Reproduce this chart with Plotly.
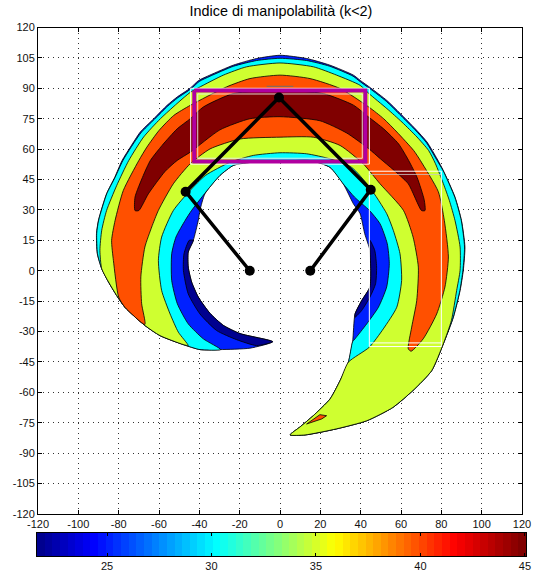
import numpy as np
import plotly.graph_objects as go

TITLE = "Indice di manipolabilità (k<2)"
X_TICKS = list(range(-120, 121, 20))
Y_TICKS = list(range(-120, 121, 15))
CB_TICKS = [25, 30, 35, 40, 45]
CB_MIN, CB_MAX = 21.65, 45.05

REGION = [(-3.6,-35),(-14.9,-38.2),(-29.8,-38.9),(-39.7,-38.9),(-48,-36.4),(-59.5,-32),(-67,-27),(-76.9,-18),(-81,-12.2),(-85,-5.6),(-88.4,1),(-90.6,8.4),(-91,18.3),(-90,25),(-86,38),(-82,46),(-78.3,54.4),(-74.2,61),(-69.3,68.4),(-62.6,75),(-56,81.6),(-51,85.7),(-44.5,90.1),(-40.3,93.9),(-34.8,96.5),(-23.2,101.4),(-11.6,104.7),(0,106.3),(13.2,104.7),(24.8,101.4),(36.4,96.5),(39.8,93.9),(44.8,90.3),(53,84),(59.7,77.5),(67.1,70),(72.9,63.5),(77.9,55.2),(81,49.4),(86.8,36.3),(90,24.7),(91.7,11.7),(90.9,0.2),(89.3,-9.7),(86,-22.9),(81,-36),(75.2,-49.3),(66,-59),(56,-67.4),(43,-74),(28,-78),(12.4,-81),(5,-81),(10,-77),(16.5,-71.5),(24.8,-63.3),(29.8,-54.2),(33.9,-45.1),(36,-35),(37.2,-21.3),(40.5,-14.7),(44.6,-8),(45,0.2),(44.6,10),(42,18.3),(39.7,28.2),(36.4,33),(31.4,42.8),(24.8,51),(14.9,54.4),(0,54),(-13,53.6),(-23,52),(-29.8,47),(-37.2,38),(-39.7,29.8),(-40.5,24.9),(-43,15),(-45.5,9.2),(-45.5,1.8),(-43.8,-5.6),(-40.5,-13),(-34.7,-21),(-28,-27),(-19.8,-31)]

CYAN = [(-29.4,-38.9),(-39.7,-38.9),(-48,-36.4),(-59.5,-32),(-67,-27),(-76.9,-18),(-81,-12.2),(-85,-5.6),(-88.4,1),(-90.5,8.4),(-90.9,18.3),(-89.9,25),(-85.9,38),(-81.8,46),(-78,54.2),(-74,60.7),(-69,68),(-62.3,74.7),(-55.7,81.2),(-50.7,85.3),(-44.2,89.7),(-40,93.4),(-34.6,96),(-23,100.9),(-11.6,103.7),(0,104.8),(13.2,103.7),(24.6,100.9),(36.2,96),(39.6,93.4),(44.5,89.9),(52.7,83.6),(59.4,77.1),(66.8,69.7),(72.6,63.2),(77.6,54.9),(80.9,49.3),(86.7,36.2),(89.9,24.7),(91.5,11.7),(90.7,0.2),(89.2,-9.7),(85.9,-22.9),(81,-36),(75.2,-49.3),(66,-59),(56,-67.4),(43,-74),(28,-78),(12.4,-81),(5,-81),(10,-77),(16.5,-71.5),(24.8,-63.3),(29.8,-54.2),(33.9,-45.1),(36,-35),(37.2,-33.6),(43,-26.2),(48.8,-18),(52.9,-8),(54.2,3.5),(53.2,13.3),(49.6,23.2),(44.3,29.8),(37,36.3),(31.4,42.8),(24.8,51),(14.9,54.4),(0,54),(-13,53.6),(-23,52),(-29.8,47),(-35.5,40.4),(-43.8,29.8),(-47,24.9),(-51.6,16.6),(-53.7,8.4),(-53.7,-4.8),(-50.9,-16.3),(-45.5,-26.2),(-38,-33.6)]

LIME = [(-45.5,-36.9),(-48,-36.4),(-59.5,-32),(-67,-27),(-76.9,-18),(-81,-12.2),(-85,-5.6),(-88.4,1),(-89.3,10),(-88.4,20),(-86,29.7),(-81,42),(-75,54.4),(-67.6,66),(-59.3,75),(-44.5,88),(-38.1,91.5),(-28.1,96.5),(-16.6,100.6),(0,102.5),(16.6,100.6),(28.1,96.5),(39.7,91.5),(44,87.5),(53,80),(60.5,73.3),(67.9,66),(73.7,59.3),(77,53),(81,43),(84,34.6),(86.8,24.7),(89.3,11.7),(89.3,0.2),(87.6,-9.7),(85,-24.5),(81,-36),(75.2,-49.3),(66,-59),(56,-67.4),(43,-74),(28,-78),(12.4,-81),(5,-81),(10,-77),(16.5,-71.5),(24.8,-63.3),(29.8,-54.2),(33.9,-45.1),(44.3,-37.7),(51.2,-28.7),(57.9,-18),(60.3,-4.8),(59.5,8.4),(56.2,19.9),(52.9,28.2),(44.6,41),(35.5,51),(24.8,55.2),(13.2,57.7),(0,58.2),(-13.2,56.9),(-24.8,53.5),(-37,47),(-44.6,39.6),(-52.9,29.7),(-58.7,16.6),(-60.3,5.1),(-58.7,-9.7),(-54.5,-21.3),(-50.4,-30.3)]

ORANGE = [(-67,-26.5),(-76.9,-18),(-80,-13),(-82.6,5),(-83.5,15),(-81.8,24.7),(-77.7,39.6),(-70,54.4),(-66,61),(-60,69.2),(-52.7,76.6),(-44.5,81.6),(-26.5,90.7),(-14.9,94.8),(0,96.5),(14.9,94.8),(29.8,89.9),(44,80.8),(51.4,75),(58,68.4),(66.3,59.3),(69.6,54.4),(78.5,39),(81.5,24.7),(83.5,6.8),(81.8,-8),(77.7,-21.3),(71,-33.6),(65,-39.7),(63.6,-38.5),(65.3,-27.8),(67.8,-14.7),(68.6,1.8),(66,16.6),(61.2,29.8),(49.6,42.9),(41.3,52.7),(29.8,61.8),(16.5,65.9),(0,65.9),(-19.8,65),(-34.7,60.1),(-44.6,52.7),(-52.9,42.9),(-60.3,29.8),(-63.6,21.6),(-67,11.7),(-69,-3),(-68.6,-16.3)]

ORANGE_TIP = [(13.2,-75.6),(19.8,-71),(23.1,-71.5),(20.7,-73.1)]

DARKRED = [(-71.9,29.7),(-71.9,36.3),(-67.8,47),(-64.3,54.4),(-58.5,61.8),(-51,70),(-44.5,75),(-38,80.8),(-23.2,87.4),(0,89),(21.5,87.4),(36.4,81.7),(44,75.8),(51.4,70),(58.8,62.6),(63.8,54.4),(68,46),(71.5,35),(71.9,29.7),(70.2,29.7),(63.6,42.9),(56,50),(49.8,55.2),(44,60.2),(33,68),(19.8,74),(0,76),(-14.9,75),(-29.8,69.5),(-44.5,58.5),(-51,54.4),(-57,49),(-65.3,37.9),(-70,29.7)]

NAVY_LEFT = [(-3.6,-35),(-11.6,-36.9),(-21.5,-34),(-31.4,-29.5),(-39.7,-21.3),(-45.5,-11.4),(-47.9,0.2),(-47.6,8.4),(-45,15),(-43,15),(-45.5,9.2),(-45.5,1.8),(-43.8,-5.6),(-40.5,-13),(-34.7,-21),(-28,-27),(-19.8,-31)]
NAVY_RIGHT = [(44.6,15),(47,10),(47.9,1.8),(47.4,-6.4),(44.6,-13),(40.5,-19.6),(37.2,-22.9),(37.2,-21.3),(40.5,-14.7),(44.6,-8),(45,0.2),(44.6,10)]

BASE_LINK_X = [-15, -46.8, -0.5, 45, 15]
BASE_LINK_Y = [0, 39, 85.5, 40, 0]

PURPLE_RECT_X = [-42.5, 42.3, 42.3, -42.5, -42.5]
PURPLE_RECT_Y = [88.9, 88.9, 53.9, 53.9, 88.9]
WHITE_OUTER_X = [-44.3, 44.3, 44.3, -44.3, -44.3]
WHITE_OUTER_Y = [90, 90, 52.6, 52.6, 90]
WHITE_INNER_X = [-40.8, 40.8, 40.8, -40.8, -40.8]
WHITE_INNER_Y = [87.2, 87.2, 55.5, 55.5, 87.2]
WHITE_RIGHT_X = [44.3, 80, 80, 44.3, 44.3]
WHITE_RIGHT_Y = [49.1, 49.1, -37.4, -37.4, 49.1]
WHITE_LOW_X = [44.3, 80]
WHITE_LOW_Y = [-35.6, -35.6]
GREY_HIGH_X = [44.3, 80]
GREY_HIGH_Y = [47.5, 47.5]
GREY_TOP_X = [-6.6, 6.6]
GREY_TOP_Y = [91, 91]

W, H = 533, 574
fig = go.Figure()

def poly(points, color, shape="spline"):
    xs = [p[0] for p in points] + [points[0][0]]
    ys = [p[1] for p in points] + [points[0][1]]
    fig.add_trace(go.Scatter(x=xs, y=ys, mode="lines", fill="toself", fillcolor=color,
                             line=dict(color="#000000", width=0.8, shape=shape, smoothing=0.6),
                             hoverinfo="skip", showlegend=False))

poly(REGION, "rgb(0,32,255)")
poly(CYAN, "rgb(0,255,255)")
poly(LIME, "rgb(207,255,48)")
poly(ORANGE, "rgb(255,80,0)")
poly(ORANGE_TIP, "rgb(255,80,0)", "linear")
poly(DARKRED, "rgb(128,0,0)")
poly(NAVY_LEFT, "rgb(0,0,143)")
poly(NAVY_RIGHT, "rgb(0,0,143)")

def line(xs, ys, color, width):
    fig.add_trace(go.Scatter(x=xs, y=ys, mode="lines", line=dict(color=color, width=width),
                             hoverinfo="skip", showlegend=False))

line(WHITE_RIGHT_X, WHITE_RIGHT_Y, "white", 1)
line(WHITE_LOW_X, WHITE_LOW_Y, "white", 1)
line(GREY_HIGH_X, GREY_HIGH_Y, "rgba(200,200,200,0.8)", 1)
line(GREY_TOP_X, GREY_TOP_Y, "rgb(110,110,110)", 1)
line(WHITE_OUTER_X, WHITE_OUTER_Y, "white", 1)
line(WHITE_INNER_X, WHITE_INNER_Y, "rgba(235,235,235,0.9)", 1)
line(PURPLE_RECT_X, PURPLE_RECT_Y, "rgb(176,0,160)", 4)

fig.add_trace(go.Scatter(x=BASE_LINK_X, y=BASE_LINK_Y, mode="lines+markers",
                         line=dict(color="black", width=3.5),
                         marker=dict(color="black", size=10),
                         hoverinfo="skip", showlegend=False))

# colorbar: 64-step jet ramp
JET = [[0, "rgb(0,0,143)"], [0.11, "rgb(0,0,255)"], [0.365, "rgb(0,255,255)"],
       [0.61, "rgb(255,255,0)"], [0.86, "rgb(255,0,0)"], [1, "rgb(128,0,0)"]]
ramp = np.linspace(CB_MIN, CB_MAX, 65)
ramp_mid = (ramp[:-1] + ramp[1:]) / 2
fig.add_trace(go.Heatmap(x=ramp_mid, y=[0], z=[ramp_mid.tolist()], colorscale=JET,
                         showscale=False, xaxis="x2", yaxis="y2", hoverinfo="skip"))

FONT = dict(family="Liberation Sans, Arial, sans-serif", size=11, color="#111111")
fig.update_layout(
    width=W, height=H, margin=dict(l=0, r=0, t=0, b=0, autoexpand=False), paper_bgcolor="white", plot_bgcolor="white",
    showlegend=False, font=FONT,
    title=dict(text=TITLE, x=281/W, xanchor="center", y=1-11/H, yanchor="middle",
               font=dict(family="Liberation Sans, Arial, sans-serif", size=14.4, color="black")),
    xaxis=dict(domain=[38/W, 522/W], range=[-120, 120], tickvals=X_TICKS, ticktext=[str(v) for v in X_TICKS],
               ticks="inside", ticklen=4, tickcolor="black", showline=True, linecolor="black", linewidth=1, mirror="ticks",
               showgrid=True, gridcolor="#333333", griddash="1px,4px", gridwidth=1, zeroline=False, anchor="y"),
    yaxis=dict(domain=[1-514/H, 1-27.5/H], range=[-120, 120], tickvals=Y_TICKS, ticktext=[str(v) for v in Y_TICKS],
               ticks="inside", ticklen=4, tickcolor="black", showline=True, linecolor="black", linewidth=1, mirror="ticks",
               showgrid=True, gridcolor="#333333", griddash="1px,4px", gridwidth=1, zeroline=False, anchor="x"),
    xaxis2=dict(domain=[37/W, 526/W], range=[CB_MIN, CB_MAX], tickvals=CB_TICKS, ticktext=[str(v) for v in CB_TICKS],
                ticks="inside", ticklen=3, tickcolor="black", showline=True, linecolor="black", linewidth=1, mirror="ticks",
                showgrid=False, zeroline=False, anchor="y2"),
    yaxis2=dict(domain=[1-556/H, 1-533/H], range=[-0.5, 0.5], showticklabels=False, ticks="",
                showline=True, linecolor="black", linewidth=1, mirror=True, showgrid=False, zeroline=False, anchor="x2"),
)

fig.write_html("out.html", config={"displayModeBar": False},
               post_script="document.body.style.margin='0';document.documentElement.style.overflow='hidden';")
